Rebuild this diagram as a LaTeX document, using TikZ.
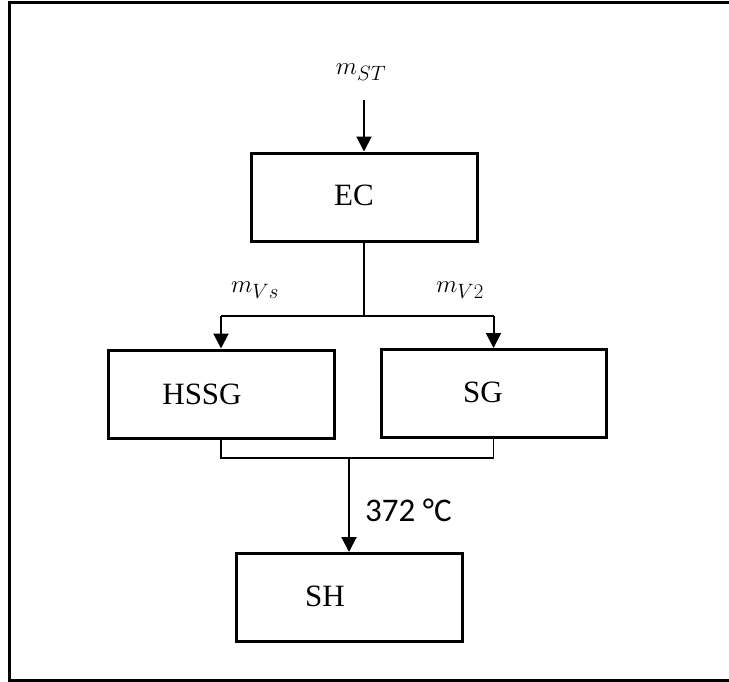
\documentclass[tikz,border=0pt]{standalone}
\usepackage{fontspec}
\setmainfont{Liberation Serif}
\newfontfamily\calib{Carlito}
\usetikzlibrary{arrows.meta}
\newcommand{\padr}[1]{\makebox[#1]{}}
\tikzset{
  x=1pt,y=-1pt,
  box/.style={draw,line width=3pt,minimum width=226pt,minimum height=88pt,inner sep=0pt,font=\fontsize{31}{36}\selectfont},
  flow/.style={line width=2pt,-{Triangle[width=15pt,length=15pt]}},
  plain/.style={line width=2pt},
  thin/.style={line width=1.5pt},
  mlabel/.style={inner sep=0pt,font=\fontsize{31}{36}\selectfont},
  tlabel/.style={inner sep=0pt,font=\calib\fontsize{33}{38}\selectfont}
}
\begin{document}
\begin{tikzpicture}
\useasboundingbox (0,0) rectangle (729,681);
\clip (0,0) rectangle (729,681);
\fill[white] (0,0) rectangle (729,681);
\draw[line width=3pt] (9,2) rectangle (745,680);
\node[box] (ec) at (364,197) {\raisebox{3pt}{EC}\padr{20pt}};
\node[box] (hssg) at (221,394) {\raisebox{-3pt}{HSSG}\padr{38pt}};
\node[box,minimum width=225pt] (sg) at (493.5,393.5) {\raisebox{2pt}{SG}\padr{21pt}};
\node[box] (sh) at (349,597.5) {\raisebox{3pt}{SH}\padr{48pt}};
\coordinate (in) at (364,100);
\coordinate (split) at (364,316);
\coordinate (sl) at (221,316);
\coordinate (sr) at (493.5,316);
\coordinate (jl) at (221,458);
\coordinate (jr) at (493.5,458);
\coordinate (jm) at (349,458);
\node[mlabel] (mst) at (361,72) {$m_{ST}$};
\node[mlabel] (mvs) at (255,290) {$m_{Vs}$};
\node[mlabel] (mv2) at (460,290) {$m_{V2}$};
\node[tlabel,anchor=west] (temp) at (365,510) {372 °C};
\draw[flow] (in) -- (ec.north);
\draw[plain] (ec.south) -- (split);
\draw[plain] (sl) -- (sr);
\draw[flow] (sl) -- (hssg.north);
\draw[flow] (sr) -- (sg.north);
\draw[thin] (hssg.south) -- (jl) -- (jr) -- (sg.south);
\draw[flow] (jm) -- (sh.north);
\end{tikzpicture}
\end{document}
